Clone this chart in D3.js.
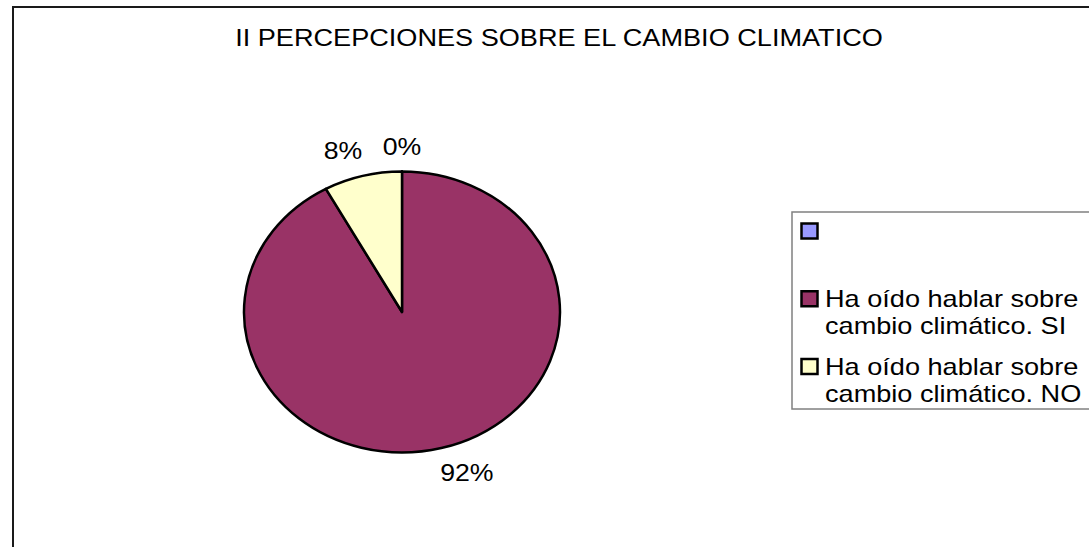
<!DOCTYPE html>
<html>
<head>
    <meta charset="utf-8">
    <title>II Percepciones sobre el cambio climatico</title>
    <script src="https://cdnjs.cloudflare.com/ajax/libs/d3/7.8.5/d3.min.js"></script>
    <style>
        body { margin: 0; background: white; }
        text { font-family: Arial, "Liberation Sans", sans-serif; fill: #000; }
    </style>
</head>
<body>
    <svg id="chart"></svg>

    <script>
        const chartTitle = "II PERCEPCIONES SOBRE EL CAMBIO CLIMATICO";
        const categories = ["", "Ha oído hablar sobre cambio climático. SI", "Ha oído hablar sobre cambio climático. NO"];
        const values = [0, 92, 8];
        const colors = ["#9999ff", "#993366", "#ffffcc"];

        const width = 1089, height = 547;
        const svg = d3.select("#chart").attr("width", width).attr("height", height);

        // outer chart frame (right and bottom are cut off in the picture)
        svg.append("rect")
            .attr("x", 13).attr("y", 7)
            .attr("width", 1200).attr("height", 700)
            .attr("fill", "none").attr("stroke", "#1a1a1a").attr("stroke-width", 2);

        // the original picture is stretched sideways, so text is too
        const sx = 1.13;

        svg.append("text")
            .attr("transform", `translate(559,46) scale(${sx},1)`)
            .attr("text-anchor", "middle")
            .style("font-size", "24px")
            .text(chartTitle);

        // pie, drawn as an ellipse
        const cx = 402, cy = 312, rx = 158, ry = 140.5;
        const pie = d3.pie().sort(null).value(d => d)(values);
        const arc = d3.arc().innerRadius(0).outerRadius(ry);

        const pieG = svg.append("g")
            .attr("transform", `translate(${cx},${cy}) scale(${rx / ry},1)`);

        pieG.selectAll("path")
            .data(pie)
            .join("path")
            .attr("d", arc)
            .attr("fill", (d, i) => colors[i])
            .attr("stroke", "#000")
            .attr("stroke-width", 2.5)
            .attr("stroke-linejoin", "round")
            .attr("vector-effect", "non-scaling-stroke");

        // percentage labels, outside end
        const total = d3.sum(values);
        const gap = 17;
        const labels = svg.append("g");
        pie.forEach((d, i) => {
            const a = (d.startAngle + d.endAngle) / 2;
            const dx = Math.sin(a), dy = -Math.cos(a);
            const ex = cx + rx * dx + gap * dx;
            const ey = cy + ry * dy + gap * dy;
            const t = labels.append("text")
                .style("font-size", "23px")
                .attr("text-anchor", "middle")
                .text(Math.round(d.value / total * 100) + "%");
            const w = t.node().getComputedTextLength() * 1.16;
            const h = 16.5;
            const sgx = Math.abs(dx) < 0.05 ? 0 : Math.sign(dx) * 0.8;
            const sgy = Math.abs(dy) < 0.05 ? 0 : Math.sign(dy);
            const lx = ex + sgx * w / 2;
            const ly = ey + sgy * h / 2 + h / 2;
            t.attr("transform", `translate(${lx},${ly}) scale(1.16,1)`);
        });

        // legend
        const legend = svg.append("g");
        legend.append("rect")
            .attr("x", 792).attr("y", 212)
            .attr("width", 400).attr("height", 197)
            .attr("fill", "#fff").attr("stroke", "#808080").attr("stroke-width", 1.5);

        const entryY = d3.scalePoint().domain(d3.range(categories.length)).range([231, 366.5]);
        const lsx = 1.18;
        const maxW = 225;

        categories.forEach((name, i) => {
            const y = entryY(i);
            legend.append("rect")
                .attr("x", 801.5).attr("y", y - 7.5)
                .attr("width", 16).attr("height", 15)
                .attr("fill", colors[i])
                .attr("stroke", "#000").attr("stroke-width", 2.5);

            // word wrap
            const t = legend.append("text")
                .attr("transform", `translate(825,${y + 8.5}) scale(${lsx},1)`)
                .style("font-size", "23px");
            const words = name.split(" ").filter(w => w);
            let line = [];
            let ts = t.append("tspan").attr("x", 0).attr("dy", 0);
            words.forEach(w => {
                line.push(w);
                ts.text(line.join(" "));
                if (ts.node().getComputedTextLength() > maxW && line.length > 1) {
                    line.pop();
                    ts.text(line.join(" "));
                    line = [w];
                    ts = t.append("tspan").attr("x", 0).attr("dy", 27).text(w);
                }
            });
        });
    </script>
</body>
</html>
